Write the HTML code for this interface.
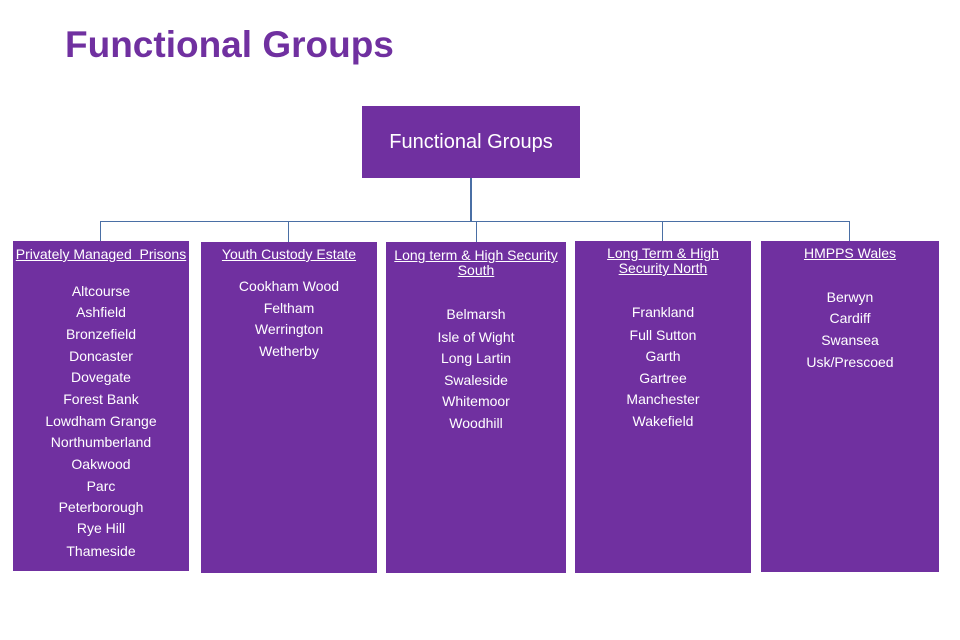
<!DOCTYPE html>
<html><head><style>
body{margin:0;width:960px;height:640px;background:#fff;position:relative;font-family:"Liberation Sans",sans-serif;overflow:hidden}
.h{position:absolute;left:65px;top:24px;font-size:37px;font-weight:bold;color:#7030a0}
.b{position:absolute;background:#7030a0;color:#fff;text-align:center;font-size:14px}
.t{position:absolute;left:0;right:0;text-decoration:underline;line-height:15px}
.i{position:absolute;left:0;right:0;line-height:17px}
.l{position:absolute;background:#4a6fa5}
</style></head><body>
<div class="h">Functional Groups</div>
<div class="b" style="left:362px;top:106px;width:218px;height:72px;font-size:20px;line-height:72px">Functional Groups</div>
<div class="l" style="left:470px;top:178px;width:2px;height:44px"></div>
<div class="l" style="left:100px;top:221px;width:750px;height:1px"></div>
<div class="l" style="left:100px;top:221px;width:1px;height:20px"></div>
<div class="l" style="left:288px;top:221px;width:1px;height:21px"></div>
<div class="l" style="left:476px;top:221px;width:1px;height:21px"></div>
<div class="l" style="left:662px;top:221px;width:1px;height:20px"></div>
<div class="l" style="left:849px;top:221px;width:1px;height:20px"></div>

<div class="b" style="left:13px;top:241px;width:176px;height:330px">
<div class="t" style="top:6px">Privately Managed&nbsp; Prisons</div>
<div class="i" style="top:42px">Altcourse</div><div class="i" style="top:63px">Ashfield</div><div class="i" style="top:85px">Bronzefield</div><div class="i" style="top:107px">Doncaster</div><div class="i" style="top:128px">Dovegate</div><div class="i" style="top:150px">Forest Bank</div><div class="i" style="top:172px">Lowdham Grange</div><div class="i" style="top:193px">Northumberland</div><div class="i" style="top:215px">Oakwood</div><div class="i" style="top:237px">Parc</div><div class="i" style="top:258px">Peterborough</div><div class="i" style="top:279px">Rye Hill</div><div class="i" style="top:302px">Thameside</div>
</div>
<div class="b" style="left:201px;top:242px;width:176px;height:331px">
<div class="t" style="top:5px">Youth Custody Estate</div>
<div class="i" style="top:36px">Cookham Wood</div><div class="i" style="top:58px">Feltham</div><div class="i" style="top:79px">Werrington</div><div class="i" style="top:101px">Wetherby</div>
</div>
<div class="b" style="left:386px;top:242px;width:180px;height:331px">
<div class="t" style="top:6px">Long term &amp; High Security<br>South</div>
<div class="i" style="top:64px">Belmarsh</div><div class="i" style="top:87px">Isle of Wight</div><div class="i" style="top:108px">Long Lartin</div><div class="i" style="top:130px">Swaleside</div><div class="i" style="top:151px">Whitemoor</div><div class="i" style="top:173px">Woodhill</div>
</div>
<div class="b" style="left:575px;top:241px;width:176px;height:332px">
<div class="t" style="top:5px">Long Term &amp; High<br>Security North</div>
<div class="i" style="top:63px">Frankland</div><div class="i" style="top:86px">Full Sutton</div><div class="i" style="top:107px">Garth</div><div class="i" style="top:129px">Gartree</div><div class="i" style="top:150px">Manchester</div><div class="i" style="top:172px">Wakefield</div>
</div>
<div class="b" style="left:761px;top:241px;width:178px;height:331px">
<div class="t" style="top:5px">HMPPS Wales</div>
<div class="i" style="top:48px">Berwyn</div><div class="i" style="top:69px">Cardiff</div><div class="i" style="top:91px">Swansea</div><div class="i" style="top:113px">Usk/Prescoed</div>
</div>
</body></html>
